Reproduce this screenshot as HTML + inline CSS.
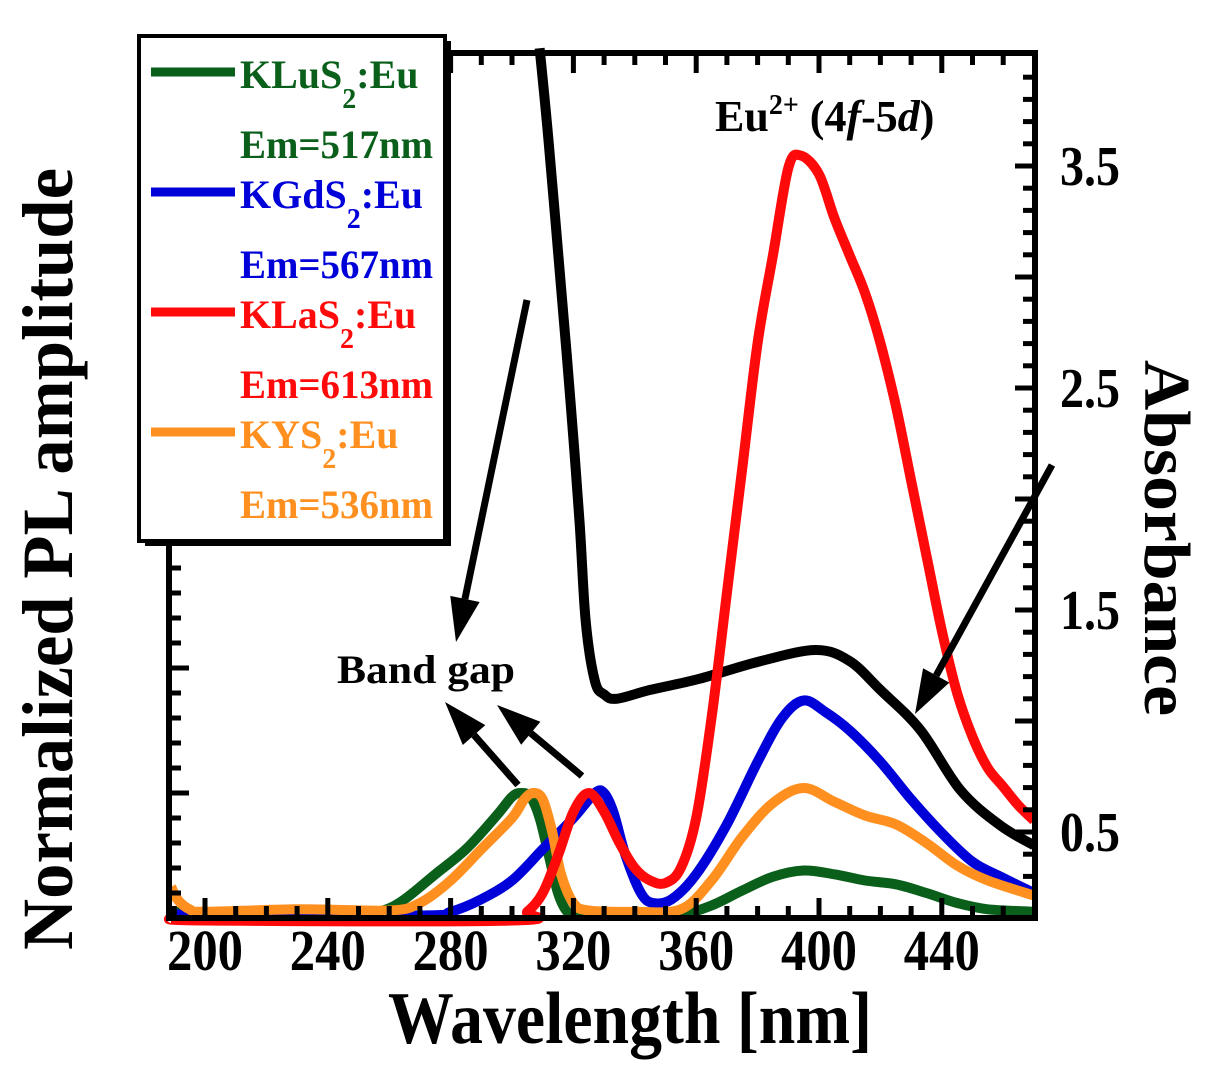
<!DOCTYPE html>
<html><head><meta charset="utf-8"><style>
html,body{margin:0;padding:0;background:#fff;}
svg{display:block;font-family:"Liberation Serif",serif;font-weight:bold;}
</style></head><body>
<svg id="chart" width="1214" height="1083" viewBox="0 0 1214 1083" xmlns="http://www.w3.org/2000/svg">
<g id="curves"></g>
<g id="frame"></g>
<g id="annot"></g>
<g id="legend"></g>
<g id="labels"></g>
</svg>
<script>
// ---- data ----
const xTicks = [200,240,280,320,360,400,440];
const rightTicks = [3.5,2.5,1.5,0.5];
const greenX = [190,200,250,258,265,275,285,295,300,303,306,309,312,315,318,322,340,355,365,375,385,395,405,415,425,435,445,455,470];
const greenY = [0.05,0.04,0.04,0.06,0.15,0.35,0.55,0.82,0.97,1.0,0.97,0.8,0.5,0.2,0.05,0.02,0.02,0.03,0.1,0.22,0.33,0.38,0.35,0.3,0.27,0.2,0.12,0.07,0.05];
const orangeX = [189,191,195,200,230,260,270,280,290,300,304,307,310,313,316,320,325,340,355,365,375,385,395,405,415,425,435,445,455,470];
const orangeY = [0.25,0.15,0.07,0.05,0.07,0.06,0.12,0.3,0.55,0.8,0.95,1.0,0.95,0.7,0.35,0.12,0.06,0.05,0.07,0.3,0.65,0.92,1.04,0.93,0.82,0.75,0.6,0.42,0.3,0.18];
const blueX = [189,200,270,280,290,300,310,320,327,330,333,337,342,346,352,360,370,380,388,395,402,410,420,430,440,450,460,470];
const blueY = [0.05,0.02,0.02,0.05,0.15,0.3,0.55,0.8,1.0,1.0,0.85,0.5,0.2,0.12,0.15,0.35,0.75,1.25,1.6,1.74,1.65,1.5,1.25,0.95,0.68,0.45,0.32,0.2];
const redX = [189,200,300,305,310,315,320,325,330,335,340,345,350,355,360,365,370,375,380,385,390,394,400,405,410,415,420,425,430,435,440,445,450,455,460,465,470];
const redY = [0.0,-0.02,-0.02,0.05,0.2,0.5,0.85,1.0,0.85,0.6,0.4,0.3,0.28,0.4,0.8,1.6,2.6,3.6,4.6,5.3,6.0,6.1,5.95,5.6,5.3,5.0,4.6,4.1,3.5,2.9,2.3,1.8,1.45,1.2,1.05,0.9,0.78];
const absX = [309,312,316,319,322,324,327,330,334,345,361,381,399,410,420,433,446,459,470];
const absY = [4.03,3.6,2.95,2.45,1.9,1.45,1.18,1.12,1.1,1.14,1.19,1.27,1.32,1.27,1.14,0.96,0.69,0.53,0.44];
// ---- axes ----
const NS='http://www.w3.org/2000/svg';
const L=169,R=1035,T=53,B=918;
function xs(nm){return 205+(nm-200)*3.07;}
function ypl(v){return 918-v*125;}
function yab(a){return 166+(3.5-a)*222;}
function mk(tag,attrs,parent){const e=document.createElementNS(NS,tag);for(const k in attrs)e.setAttribute(k,attrs[k]);parent.appendChild(e);return e;}
const curves=document.getElementById('curves');
function smoothPath(pts){
  let d='M'+pts[0][0].toFixed(1)+','+pts[0][1].toFixed(1);
  for(let i=0;i<pts.length-1;i++){
    const p0=pts[Math.max(0,i-1)],p1=pts[i],p2=pts[i+1],p3=pts[Math.min(pts.length-1,i+2)];
    const c1x=p1[0]+(p2[0]-p0[0])/6,c1y=p1[1]+(p2[1]-p0[1])/6;
    const c2x=p2[0]-(p3[0]-p1[0])/6,c2y=p2[1]-(p3[1]-p1[1])/6;
    d+='C'+c1x.toFixed(1)+','+c1y.toFixed(1)+' '+c2x.toFixed(1)+','+c2y.toFixed(1)+' '+p2[0].toFixed(1)+','+p2[1].toFixed(1);
  }
  return d;
}
function series(xa,ya,yf,color,name){
  const pts=xa.map((x,i)=>[xs(x),yf(ya[i])]);
  const p=mk('path',{d:smoothPath(pts),fill:'none',stroke:color,'stroke-width':10,'stroke-linejoin':'round','stroke-linecap':'butt'},curves);
  
  
}
series(absX,absY,yab,'#000','absorbance-curve');
series(greenX,greenY,ypl,'#0a5f1a','kluS2-curve');
series(blueX,blueY,ypl,'#0000d8','kgdS2-curve');
series(orangeX,orangeY,ypl,'#ff9020','kys2-curve');
series(redX,redY,ypl,'#ff0a0a','klaS2-curve');
// frame
const fr=document.getElementById('frame');
mk('rect',{x:L,y:T,width:R-L,height:B-T,fill:'none',stroke:'#000','stroke-width':6},fr);
for(let nm=190;nm<=470;nm+=10){
  const x=xs(nm);if(x<L+4||x>R-4)continue;
  const len=(nm%40===0)?20:12;
  mk('line',{x1:x,y1:B,x2:x,y2:B-len,stroke:'#000','stroke-width':5},fr);
  mk('line',{x1:x,y1:T,x2:x,y2:T+len,stroke:'#000','stroke-width':5},fr);
}
for(let k=0;k<=34;k++){const y=B-k*25;if(y<T+5)break;const len=(k%5===0)?20:12;
  mk('line',{x1:L,y1:y,x2:L+len,y2:y,stroke:'#000','stroke-width':5},fr);}
for(let a=0.3;a<=3.91;a+=0.1){const y=yab(a);if(y>B-4||y<T+4)continue;
  const major=Math.abs(Math.round(a*10)%5)===0;const len=major?20:12;
  mk('line',{x1:R,y1:y,x2:R-len,y2:y,stroke:'#000','stroke-width':5},fr);}
const lab=document.getElementById('labels');
xTicks.forEach(v=>{const t=mk('text',{x:xs(v),y:970,'text-anchor':'middle','font-size':58,textLength:76,lengthAdjust:'spacingAndGlyphs'},lab);t.textContent=v;
  });
rightTicks.forEach(v=>{const t=mk('text',{x:1060,y:yab(v)+19,'font-size':56,textLength:60,lengthAdjust:'spacingAndGlyphs'},lab);t.textContent=v.toFixed(1);
  });
</script>
<script>
(function(){
const NS='http://www.w3.org/2000/svg';
function mk(tag,attrs,parent){const e=document.createElementNS(NS,tag);for(const k in attrs)e.setAttribute(k,attrs[k]);parent.appendChild(e);return e;}
const lab=document.getElementById('labels');
let t=mk('text',{x:630,y:1043,'text-anchor':'middle','font-size':74,textLength:484,lengthAdjust:'spacingAndGlyphs'},lab);t.textContent='Wavelength [nm]';


t=mk('text',{x:0,y:0,'text-anchor':'middle','font-size':72,textLength:782,lengthAdjust:'spacingAndGlyphs',transform:'translate(72,559) rotate(-90)'},lab);t.textContent='Normalized PL amplitude';


t=mk('text',{x:0,y:0,'text-anchor':'middle','font-size':66,textLength:356,lengthAdjust:'spacingAndGlyphs',transform:'translate(1145,538) rotate(90)'},lab);t.textContent='Absorbance';


// annotations
const an=document.getElementById('annot');
function arrow(x1,y1,x2,y2,name){
  const g=mk('g',{},an);
  
  
  const ang=Math.atan2(y2-y1,x2-x1),hl=44,hw=15;
  const bx=x2-hl*Math.cos(ang),by=y2-hl*Math.sin(ang);
  mk('line',{x1:x1,y1:y1,x2:bx,y2:by,stroke:'#000','stroke-width':7},g);
  const px=-Math.sin(ang)*hw,py=Math.cos(ang)*hw;
  mk('polygon',{points:`${x2},${y2} ${bx+px},${by+py} ${bx-px},${by-py}`,fill:'#000'},g);
}
arrow(527,300,456,642,'arrow-to-bandgap');
arrow(1052,465,915,714,'arrow-to-peak');
arrow(518,785,445,702,'bandgap-arrow-1');
arrow(582,776,497,705,'bandgap-arrow-2');
t=mk('text',{x:337,y:683,'font-size':40,textLength:178,lengthAdjust:'spacingAndGlyphs'},an);t.textContent='Band gap';


t=mk('text',{x:715,y:131,'font-size':44},an);


t.innerHTML='Eu<tspan dy="-17" font-size="28">2+</tspan><tspan dy="17"> (4</tspan><tspan font-style="italic">f</tspan>-5<tspan font-style="italic">d</tspan>)';
// legend
const lg=document.getElementById('legend');
mk('rect',{x:145,y:41,width:306,height:505,fill:'#000'},lg);
mk('rect',{x:139,y:36,width:306,height:505,fill:'#fff',stroke:'#000','stroke-width':4},lg);
const names=[['KLuS','Em=517nm','#0a5f1a'],['KGdS','Em=567nm','#0000d8'],['KLaS','Em=613nm','#ff0a0a'],['KYS','Em=536nm','#ff9020']];
names.forEach((n,i)=>{
  const y0=72+i*120;
  const ln=mk('line',{x1:151,y1:y0,x2:235,y2:y0,stroke:n[2],'stroke-width':9},lg);
  
  
  let a=mk('text',{x:240,y:y0+16,fill:n[2],'font-size':40},lg);
  
  
  a.innerHTML=n[0]+'<tspan dy="20" font-size="28">2</tspan><tspan dy="-20">:Eu</tspan>';
  let b=mk('text',{x:240,y:y0+86,fill:n[2],'font-size':40,textLength:193,lengthAdjust:'spacingAndGlyphs'},lg);
  b.textContent=n[1];
  
  
});
})();
</script>
</body></html>
